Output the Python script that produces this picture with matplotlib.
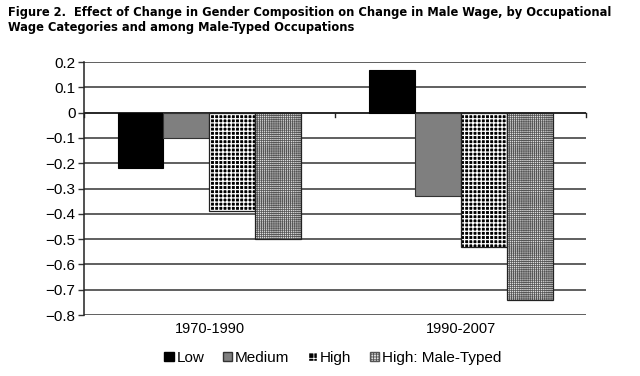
import matplotlib.pyplot as plt
import matplotlib.font_manager as fm
from matplotlib.patches import Patch
import numpy as np

periods = ["1970-1990", "1990-2007"]
series = ["Low", "Medium", "High", "High: Male-Typed"]
low = [-0.22, 0.17]
medium = [-0.10, -0.33]
high = [-0.39, -0.53]
high_male = [-0.50, -0.74]

# look for a condensed bold face for the title
cond = None
for f in fm.fontManager.ttflist:
    if ("Narrow" in f.name or "Condensed" in f.name or f.stretch in ("condensed", "semi-condensed")) and f.weight in (600, 700, "bold"):
        cond = f.fname
        break

plt.rcParams["font.family"] = ["Liberation Sans", "DejaVu Sans"]

fig = plt.figure(figsize=(6.4, 3.76), dpi=100)
ax = fig.add_axes([0.131, 0.162, 0.785, 0.673])

x = np.arange(len(periods))
w = 0.183
offs = [-1.5 * w, -0.5 * w, 0.5 * w, 1.5 * w]

ax.bar(x + offs[0], low, w, color="black", edgecolor="black", lw=0.8, zorder=3)
ax.bar(x + offs[1], medium, w, color="#7f7f7f", edgecolor="#333333", lw=0.8, zorder=3)

with plt.rc_context({"hatch.linewidth": 0.9}):
    ax.bar(x + offs[2], high, w, color="black", edgecolor="white", hatch="++++", lw=0, zorder=3)
with plt.rc_context({"hatch.linewidth": 0.55}):
    ax.bar(x + offs[3], high_male, w, color="#e0e0e0", edgecolor="#555555", hatch="+" * 8, lw=0, zorder=3)
ax.bar(x + offs[2], high, w, fill=False, edgecolor="#222222", lw=0.9, zorder=4)
ax.bar(x + offs[3], high_male, w, fill=False, edgecolor="#222222", lw=0.9, zorder=4)

ax.set_xlim(-0.5, 1.5)
ax.set_ylim(-0.8, 0.2)
yt = np.arange(-0.8, 0.21, 0.1)
ax.set_yticks(yt)
ax.set_yticklabels(["0" if abs(v) < 1e-9 else f"{v:.1f}".replace("-", "\u2212") for v in yt], fontsize=11)
ax.yaxis.grid(True, color="#444444", lw=1.2, zorder=0)
ax.set_axisbelow(True)
ax.tick_params(axis="y", length=4, width=1, color="#333333", pad=2)

ax.set_xticks(x)
ax.set_xticklabels(periods, fontsize=10.5)
ax.tick_params(axis="x", length=0, pad=5)

for s in ["top", "right", "bottom"]:
    ax.spines[s].set_visible(False)
ax.spines["left"].set_color("#222222")
ax.spines["left"].set_linewidth(1.1)

# category axis at zero with boundary ticks
ax.axhline(0, color="#222222", lw=1.2, zorder=2)
for b in [-0.5, 0.5, 1.5]:
    ax.plot([b, b], [0, -0.016], color="#222222", lw=1, zorder=2, clip_on=False)

title = ("Figure 2.  Effect of Change in Gender Composition on Change in Male Wage, by Occupational\n"
         "Wage Categories and among Male-Typed Occupations")
if cond:
    t = fig.text(0.012, 0.985, title, fontproperties=fm.FontProperties(fname=cond, size=10.5),
                 va="top", ha="left", linespacing=1.2)
else:
    t = fig.text(0.012, 0.985, title, fontsize=10.5, fontweight="bold", va="top", ha="left", linespacing=1.2)

# scale the title to the reference width
r = fig.canvas.get_renderer()
wpx = t.get_window_extent(r).width
t.set_fontsize(10.5 * 604 / wpx)

with plt.rc_context({"hatch.linewidth": 0.6}):
    handles = [
        Patch(facecolor="black", edgecolor="black"),
        Patch(facecolor="#7f7f7f", edgecolor="#333333"),
        Patch(facecolor="black", edgecolor="white", hatch="+++"),
        Patch(facecolor="#e0e0e0", edgecolor="#555555", hatch="++++++"),
    ]
    fig.legend(handles, series, loc="center", bbox_to_anchor=(0.52, 0.048), ncol=4, frameon=False,
               fontsize=11, handlelength=0.6, handleheight=0.6, handletextpad=0.2, columnspacing=1.2)

fig.savefig("out.png", dpi=100)
